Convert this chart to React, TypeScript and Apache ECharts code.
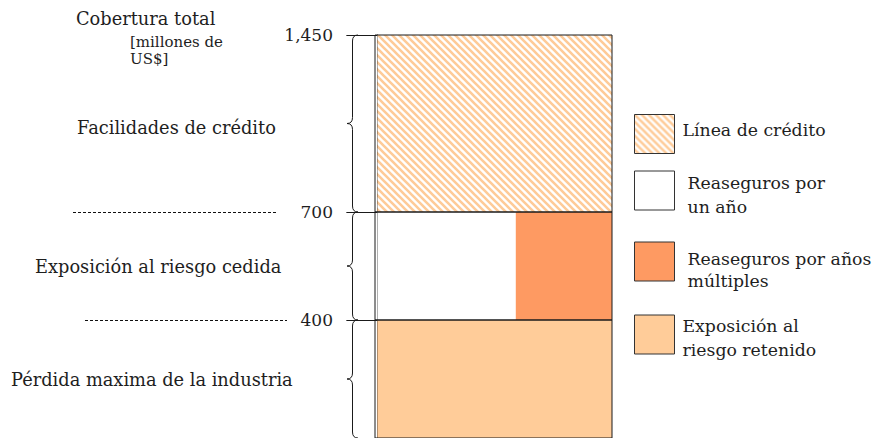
import React, { useEffect, useRef } from 'react';
import * as echarts from 'echarts';

// ---- data ----
const LAYER_BOUNDS = [0, 400, 700, 1450]; // millones de US$
const LAYER_NAMES = ['Pérdida maxima de la industria', 'Exposición al riesgo cedida', 'Facilidades de crédito'];
const SERIES_NAMES = ['Línea de crédito', 'Reaseguros por un año', 'Reaseguros por años múltiples', 'Exposición al riesgo retenido'];
const LEGEND_LABELS = ['Línea de crédito', 'Reaseguros por\nun año', 'Reaseguros por años\nmúltiples', 'Exposición al\nriesgo retenido'];
const ONE_YEAR_SHARE = 59; // % of the ceded layer
const MULTI_YEAR_SHARE = 41;
const TICK_LABELS = ['1,450', '700', '400'];
const TITLE_LINES = ['Cobertura total'];
const UNIT_LINES = ['[millones de', 'US$]'];

const FONT = 'DejaVu Serif';
const TXT = '#1e1e1e';
const C_HATCH = '#FECB98';
const C_WHITE = '#FFFFFF';
const C_ORANGE = '#FE9A62';
const C_PEACH = '#FFCC99';

function makeHatch() {
  const s = 7;
  const cv = document.createElement('canvas');
  cv.width = s;
  cv.height = s;
  const ctx = cv.getContext('2d')!;
  ctx.fillStyle = '#ffffff';
  ctx.fillRect(0, 0, s, s);
  ctx.strokeStyle = C_HATCH;
  ctx.lineWidth = 2.6;
  ctx.beginPath();
  [-s, 0, s].forEach((c) => {
    ctx.moveTo(c - 1, -1);
    ctx.lineTo(c + s + 1, s + 1);
  });
  ctx.stroke();
  return { image: cv, repeat: 'repeat', imageWidth: s, imageHeight: s } as any;
}

const renderRect = (fill: any) => (params: any, api: any) => {
  const a = api.coord([api.value(0), api.value(3)]);
  const b = api.coord([api.value(1), api.value(2)]);
  return {
    type: 'rect',
    shape: { x: a[0], y: a[1], width: b[0] - a[0], height: b[1] - a[1] },
    style: { fill },
  };
};

export default function App() {
  const ref = useRef<HTMLDivElement>(null);
  useEffect(() => {
    if (!ref.current) return;
    const chart = echarts.init(ref.current, null, { renderer: 'svg' });
    const hatch = makeHatch();

    // grid 0 = top layer, grid 1 = middle, grid 2 = bottom
    const gridLayout = [
      { top: 35, height: 177 },
      { top: 212, height: 108 },
      { top: 320, height: 120 },
    ];
    const grids = gridLayout.map((g) => ({
      left: 375,
      width: 237,
      top: g.top,
      height: g.height,
      show: true,
      borderColor: '#1a1a1a',
      borderWidth: 1,
      backgroundColor: 'transparent',
      z: 5,
    }));
    const xAxes = [0, 1, 2].map((i) => ({ gridIndex: i, type: 'value', min: -1, max: 100, show: false }));
    const yAxes = [0, 1, 2].map((i) => {
      const layer = 2 - i;
      const lo = LAYER_BOUNDS[layer];
      const hi = LAYER_BOUNDS[layer + 1];
      return {
        gridIndex: i,
        type: 'value',
        min: lo,
        max: hi,
        axisLine: { show: true, lineStyle: { color: '#1a1a1a', width: 1 } },
        axisTick: { show: true, length: 31, customValues: [hi], lineStyle: { color: '#1a1a1a' } },
        axisLabel: {
          show: true,
          customValues: [hi],
          formatter: () => TICK_LABELS[i],
          margin: 42,
          color: TXT,
          fontSize: 17,
          fontFamily: FONT,
        },
        splitLine: { show: false },
      };
    });

    const series = [
      {
        type: 'custom', name: SERIES_NAMES[0], xAxisIndex: 0, yAxisIndex: 0,
        itemStyle: { color: hatch }, renderItem: renderRect(hatch),
        encode: { x: [0, 1], y: [2, 3] },
        data: [[0, 100, LAYER_BOUNDS[2], LAYER_BOUNDS[3]]],
      },
      {
        type: 'custom', name: SERIES_NAMES[1], xAxisIndex: 1, yAxisIndex: 1,
        itemStyle: { color: C_WHITE }, renderItem: renderRect(C_WHITE),
        encode: { x: [0, 1], y: [2, 3] },
        data: [[0, ONE_YEAR_SHARE, LAYER_BOUNDS[1], LAYER_BOUNDS[2]]],
      },
      {
        type: 'custom', name: SERIES_NAMES[2], xAxisIndex: 1, yAxisIndex: 1,
        itemStyle: { color: C_ORANGE }, renderItem: renderRect(C_ORANGE),
        encode: { x: [0, 1], y: [2, 3] },
        data: [[ONE_YEAR_SHARE, ONE_YEAR_SHARE + MULTI_YEAR_SHARE, LAYER_BOUNDS[1], LAYER_BOUNDS[2]]],
      },
      {
        type: 'custom', name: SERIES_NAMES[3], xAxisIndex: 2, yAxisIndex: 2,
        itemStyle: { color: C_PEACH }, renderItem: renderRect(C_PEACH),
        encode: { x: [0, 1], y: [2, 3] },
        data: [[0, 100, LAYER_BOUNDS[0], LAYER_BOUNDS[1]]],
      },
    ];

    // gapTop / gapBottom: invisible spacer lines that nudge the label off the box centre
    const legendLayout = [
      { top: 114, left: 3, lh: 24, gapTop: 0, gapBottom: 9 },
      { top: 162, left: 8, lh: 24, gapTop: 9, gapBottom: 0 },
      { top: 231, left: 8, lh: 22, gapTop: 17, gapBottom: 0 },
      { top: 307, left: 3, lh: 24, gapTop: 7, gapBottom: 0 },
    ];
    const legends = SERIES_NAMES.map((name, i) => {
      const L = legendLayout[i];
      return {
        data: [name],
        left: 634,
        top: L.top,
        padding: 0,
        orient: 'vertical',
        icon: 'rect',
        itemWidth: 40,
        itemHeight: 39,
        selectedMode: false,
        itemStyle: { borderColor: '#333', borderWidth: 1 },
        formatter: () =>
          (L.gapTop ? '{gt| }\n' : '') + LEGEND_LABELS[i] + (L.gapBottom ? '\n{gb| }' : ''),
        textStyle: {
          color: TXT,
          fontSize: 17.3,
          fontFamily: FONT,
          lineHeight: L.lh,
          padding: [0, 0, 0, L.left],
          rich: {
            gt: { fontSize: 1, lineHeight: L.gapTop || 1 },
            gb: { fontSize: 1, lineHeight: L.gapBottom || 1 },
          },
        },
      };
    });

    chart.setOption({
      animation: false,
      backgroundColor: '#ffffff',
      grid: grids,
      xAxis: xAxes,
      yAxis: yAxes,
      legend: legends,
      series,
    } as any);

    // annotations placed from the axes' own scales
    const yPix = (v: number, gi: number) => chart.convertToPixel({ yAxisIndex: gi } as any, v) as unknown as number;
    const layers = [0, 1, 2].map((layer) => {
      const gi = 2 - layer;
      return { y0: yPix(LAYER_BOUNDS[layer + 1], gi), y1: yPix(LAYER_BOUNDS[layer], gi) };
    });
    const stroke = { stroke: '#1a1a1a', lineWidth: 1, fill: null };
    const brace = (y0: number, y1: number) => {
      const xr = 358, xv = 352.5, xt = 347, r = 6;
      const ym = (y0 + y1) / 2;
      return [
        { type: 'bezierCurve', shape: { x1: xr, y1: y0, cpx1: xv, cpy1: y0, x2: xv, y2: y0 + r }, style: stroke },
        { type: 'line', shape: { x1: xv, y1: y0 + r, x2: xv, y2: ym - r }, style: stroke },
        { type: 'bezierCurve', shape: { x1: xv, y1: ym - r, cpx1: xv, cpy1: ym, x2: xt, y2: ym }, style: stroke },
        { type: 'bezierCurve', shape: { x1: xt, y1: ym, cpx1: xv, cpy1: ym, x2: xv, y2: ym + r }, style: stroke },
        { type: 'line', shape: { x1: xv, y1: ym + r, x2: xv, y2: y1 - r }, style: stroke },
        { type: 'bezierCurve', shape: { x1: xv, y1: y1 - r, cpx1: xv, cpy1: y1, x2: xr, y2: y1 }, style: stroke },
      ];
    };
    const labelLeft = [11, 35, 77];
    const dashRange = [[85, 287], [73, 276]];
    const graphics: any[] = [];
    const txt = (x: number, y: number, text: string, size: number) => ({
      type: 'text', x, y,
      style: { text, fill: TXT, fontFamily: FONT, fontSize: size, verticalAlign: 'middle', align: 'left' },
    });
    layers.forEach((L, i) => {
      graphics.push(...brace(L.y0, L.y1));
      graphics.push(txt(labelLeft[i], (L.y0 + L.y1) / 2 + (i === 2 ? 4 : 0), LAYER_NAMES[i], 17.8));
    });
    [1, 2].forEach((b, k) => {
      const yy = Math.round(yPix(LAYER_BOUNDS[b], b === 1 ? 2 : 1)) + 0.5;
      graphics.push({
        type: 'line',
        shape: { x1: dashRange[k][0], y1: yy, x2: dashRange[k][1], y2: yy },
        style: { stroke: '#111', lineWidth: 1, lineDash: [3, 2] },
      });
    });
    graphics.push(txt(76, 18, TITLE_LINES[0], 17.8));
    UNIT_LINES.forEach((t, k) => graphics.push(txt(130, 42 + k * 17, t, 15)));
    chart.setOption({ graphic: graphics } as any);

    return () => chart.dispose();
  }, []);
  return <div ref={ref} style={{ position: 'fixed', left: 0, top: 0, width: 877, height: 438 }} />;
}
